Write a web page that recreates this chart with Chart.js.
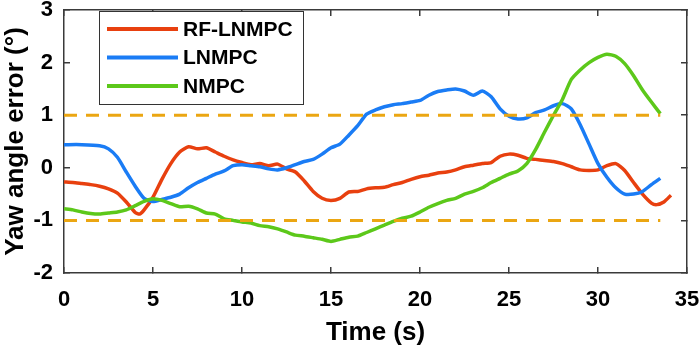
<!DOCTYPE html>
<html>
<head>
<meta charset="utf-8">
<script src="https://cdn.jsdelivr.net/npm/chart.js@4"></script>
<style>
	body{margin:0;background:#fff;}
	#wrap{width:700px;height:348px;}
</style>
</head>
<body>
<div id="wrap"><canvas id="yawChart" width="700" height="348"></canvas></div>
<script>
var seriesNames = ['RF-LNMPC', 'LNMPC', 'NMPC'];
var seriesColors = ['#e8400f', '#1a7cf5', '#5cc81a'];
var limitColor = '#eba612';

var rfTime = [0, 0.5, 1, 1.5, 2, 2.5, 3, 3.5, 4, 4.25, 4.5, 5, 5.5, 6, 6.5, 7, 7.5, 8, 8.5, 9, 9.5, 10, 10.5, 11, 11.5, 12, 12.5, 13, 13.5, 14, 14.5, 15, 15.5, 16, 16.5, 17, 17.5, 18, 18.5, 19, 19.5, 20, 20.5, 21, 21.5, 22, 22.5, 23, 23.5, 24, 24.5, 25, 25.5, 26, 26.5, 27, 27.5, 28, 28.5, 29, 29.5, 30, 30.5, 31, 31.5, 32, 32.5, 33, 33.3, 33.7, 34.1];
var rfErr = [-0.27, -0.28, -0.30, -0.32, -0.35, -0.40, -0.48, -0.65, -0.85, -0.88, -0.80, -0.56, -0.22, 0.08, 0.30, 0.40, 0.36, 0.38, 0.30, 0.22, 0.15, 0.10, 0.06, 0.08, 0.04, 0.07, -0.02, -0.08, -0.25, -0.45, -0.58, -0.62, -0.58, -0.46, -0.45, -0.40, -0.38, -0.37, -0.32, -0.28, -0.22, -0.17, -0.14, -0.10, -0.08, -0.04, 0.02, 0.05, 0.08, 0.10, 0.22, 0.26, 0.24, 0.18, 0.16, 0.14, 0.12, 0.08, 0.02, -0.04, -0.05, -0.04, 0.04, 0.08, -0.05, -0.28, -0.50, -0.67, -0.70, -0.65, -0.52];

var lnTime = [0, 1, 2, 2.5, 3, 3.5, 4, 4.5, 5, 5.5, 6, 6.5, 7, 7.5, 8, 8.5, 9, 9.5, 10, 10.5, 11, 11.5, 12, 12.5, 13, 13.5, 14, 14.5, 15, 15.5, 16, 16.5, 17, 17.5, 18, 18.5, 19, 19.5, 20, 20.5, 21, 21.5, 22, 22.5, 23, 23.5, 24, 24.5, 25, 25.5, 26, 26.5, 27, 27.5, 28, 28.5, 29, 29.5, 30, 30.5, 31, 31.5, 32, 32.5, 33, 33.5];
var lnErr = [0.44, 0.44, 0.42, 0.36, 0.20, -0.08, -0.35, -0.58, -0.64, -0.60, -0.56, -0.50, -0.38, -0.28, -0.20, -0.12, -0.06, 0.04, 0.06, 0.04, 0.02, -0.02, -0.04, 0.00, 0.06, 0.12, 0.16, 0.26, 0.38, 0.45, 0.62, 0.80, 1.02, 1.10, 1.16, 1.20, 1.22, 1.25, 1.28, 1.38, 1.45, 1.48, 1.50, 1.46, 1.38, 1.46, 1.35, 1.12, 0.98, 0.93, 0.95, 1.05, 1.10, 1.18, 1.22, 1.12, 0.82, 0.45, 0.08, -0.18, -0.38, -0.50, -0.50, -0.45, -0.32, -0.20];

var nmTime = [0, 0.5, 1, 1.5, 2, 2.5, 3, 3.5, 4, 4.5, 5, 5.5, 6, 6.5, 7, 7.5, 8, 8.5, 9, 9.5, 10, 10.5, 11, 11.5, 12, 12.5, 13, 13.5, 14, 14.5, 15, 15.5, 16, 16.5, 17, 17.5, 18, 18.5, 19, 19.5, 20, 20.5, 21, 21.5, 22, 22.5, 23, 23.5, 24, 24.5, 25, 25.5, 26, 26.5, 27, 27.5, 28, 28.5, 29, 29.5, 30, 30.5, 31, 31.5, 32, 32.5, 33, 33.5];
var nmErr = [-0.78, -0.80, -0.84, -0.87, -0.88, -0.86, -0.84, -0.80, -0.72, -0.64, -0.59, -0.62, -0.68, -0.74, -0.73, -0.78, -0.86, -0.88, -0.97, -1.00, -1.03, -1.05, -1.10, -1.12, -1.16, -1.22, -1.28, -1.30, -1.33, -1.36, -1.40, -1.36, -1.32, -1.30, -1.23, -1.16, -1.09, -1.02, -0.96, -0.92, -0.84, -0.75, -0.68, -0.62, -0.58, -0.50, -0.45, -0.38, -0.28, -0.20, -0.12, -0.06, 0.08, 0.35, 0.68, 1.00, 1.30, 1.68, 1.86, 2.00, 2.10, 2.16, 2.12, 1.98, 1.75, 1.48, 1.25, 1.03];

var limitTime = [0, 33.5];
var upperLimit = [1, 1];
var lowerLimit = [-1, -1];

var xTicks = [0, 5, 10, 15, 20, 25, 30, 35];
var yTicks = [-2, -1, 0, 1, 2, 3];

function toPoints(xs, ys){
	var pts = [];
	for(var i=0;i<xs.length;i++){
		pts.push({x: xs[i], y: ys[i]});
	}
	return pts;
}

function lineSet(label, xs, ys, color, order){
	return {
		label: label,
		data: toPoints(xs, ys),
		borderColor: color,
		backgroundColor: color,
		borderWidth: 3.5,
		pointRadius: 0,
		tension: 0.2,
		fill: false,
		order: order
	};
}

function noPad(s){
	s.paddingLeft = 0; s.paddingRight = 0;
	s.paddingTop = 0; s.paddingBottom = 0;
}

var fontFamily = "'Liberation Sans', Arial, sans-serif";
var boxColor = '#3a3a3a';

// inward tick marks like matlab: negative tick length, no grid on the plot
var inwardGrid = {display: true, drawOnChartArea: false, drawTicks: true, tickLength: -6, color: boxColor, lineWidth: 1.5};
var boxBorder = {display: true, color: boxColor, width: 1.5};

function drawLegend(chart){
	var ctx = chart.ctx;
	ctx.save();
	ctx.setLineDash([]);
	ctx.fillStyle = '#fff';
	ctx.fillRect(99, 11, 204, 93);
	ctx.strokeStyle = '#333';
	ctx.lineWidth = 1;
	ctx.strokeRect(99.5, 11.5, 204, 93);
	ctx.font = 'bold 21px ' + fontFamily;
	ctx.textBaseline = 'middle';
	ctx.fillStyle = '#000';
	for(var i=0;i<seriesNames.length;i++){
		var y = 29 + i * 28.5;
		ctx.strokeStyle = seriesColors[i];
		ctx.lineWidth = 4;
		ctx.beginPath();
		ctx.moveTo(107, y); ctx.lineTo(178, y);
		ctx.stroke();
		ctx.fillText(seriesNames[i], 183, y + 1);
	}
	ctx.restore();
}

var legendPlugin = {
	id: 'boxLegend',
	afterDraw: function(chart){
		drawLegend(chart);
	}
};

var limitStyle = {
	borderColor: limitColor,
	borderWidth: 3,
	borderDash: [13, 9],
	pointRadius: 0,
	fill: false
};

new Chart(document.getElementById('yawChart'), {
	type: 'line',
	data: {
		datasets: [
			lineSet(seriesNames[2], nmTime, nmErr, seriesColors[2], 1),
			lineSet(seriesNames[1], lnTime, lnErr, seriesColors[1], 2),
			lineSet(seriesNames[0], rfTime, rfErr, seriesColors[0], 3),
			Object.assign({label: 'upper', data: toPoints(limitTime, upperLimit), order: 0}, limitStyle),
			Object.assign({label: 'lower', data: toPoints(limitTime, lowerLimit), order: 0}, limitStyle)
		]
	},
	options: {
		responsive: false,
		animation: false,
		layout: {autoPadding: false, padding: {top: 10, right: 13, left: 0, bottom: 0}},
		plugins: {
			legend: {display: false},
			tooltip: {enabled: false}
		},
		scales: {
			x: {
				type: 'linear',
				position: 'bottom',
				min: 0,
				max: 35,
				afterFit: function(s){ s.height = 75; noPad(s); },
				afterBuildTicks: function(s){ s.ticks = xTicks.map(function(v){ return {value: v}; }); },
				grid: inwardGrid,
				border: boxBorder,
				ticks: {color: '#000', padding: 20, font: {family: fontFamily, size: 22, weight: 'bold'}},
				title: {display: true, text: 'Time (s)', color: '#000', padding: {top: 0, bottom: 0}, font: {family: fontFamily, size: 26, weight: 'bold'}}
			},
			x2: {
				type: 'linear',
				axis: 'x',
				position: 'top',
				min: 0,
				max: 35,
				afterFit: function(s){ s.height = 0; noPad(s); },
				afterBuildTicks: function(s){ s.ticks = xTicks.map(function(v){ return {value: v}; }); },
				grid: inwardGrid,
				border: boxBorder,
				ticks: {display: false}
			},
			y: {
				type: 'linear',
				position: 'left',
				min: -2,
				max: 3,
				afterFit: function(s){ s.width = 64; noPad(s); },
				afterBuildTicks: function(s){ s.ticks = yTicks.map(function(v){ return {value: v}; }); },
				grid: inwardGrid,
				border: boxBorder,
				ticks: {color: '#000', padding: 17, font: {family: fontFamily, size: 22, weight: 'bold'}},
				title: {display: true, text: 'Yaw angle error (°)', color: '#000', padding: {top: 0, bottom: 0}, font: {family: fontFamily, size: 26, weight: 'bold'}}
			},
			y2: {
				type: 'linear',
				axis: 'y',
				position: 'right',
				min: -2,
				max: 3,
				afterFit: function(s){ s.width = 0; noPad(s); },
				afterBuildTicks: function(s){ s.ticks = yTicks.map(function(v){ return {value: v}; }); },
				grid: inwardGrid,
				border: boxBorder,
				ticks: {display: false}
			}
		}
	},
	plugins: [legendPlugin]
});
</script>
</body>
</html>
